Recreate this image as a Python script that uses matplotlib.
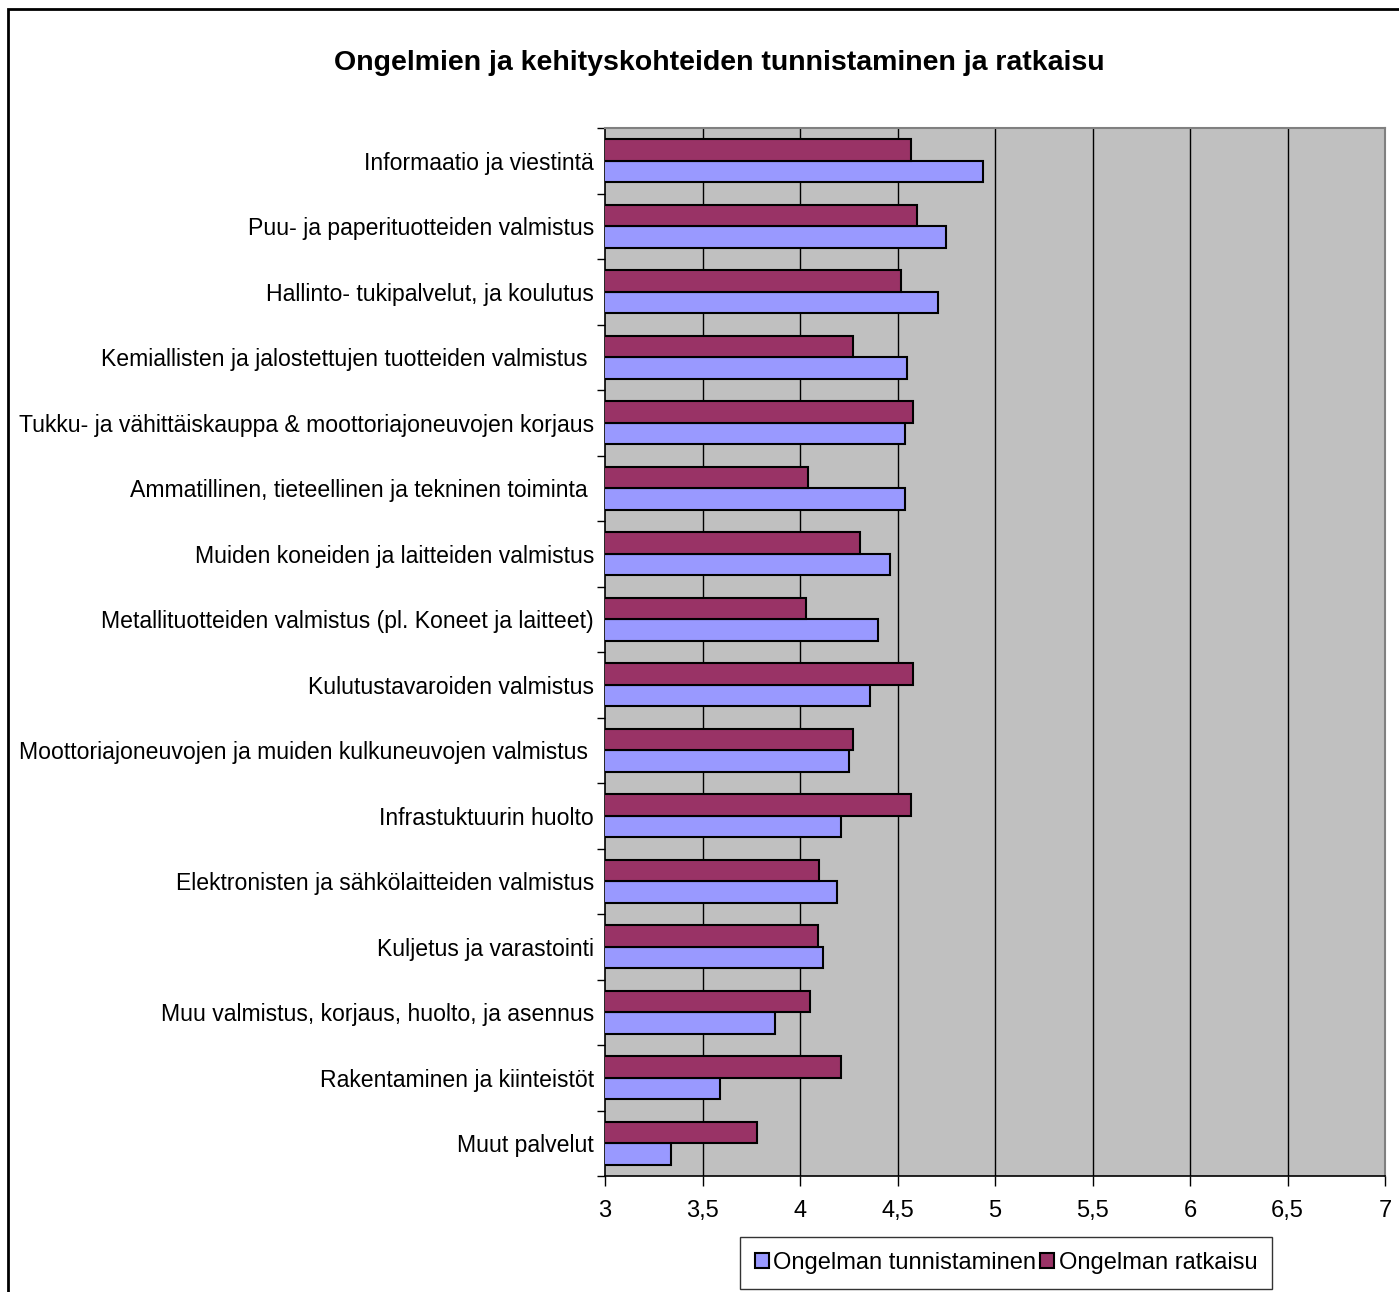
import matplotlib
matplotlib.use("Agg")
import matplotlib.pyplot as plt
import matplotlib.patches as mpatches
import numpy as np

plt.rcParams['font.family'] = ['Liberation Sans', 'DejaVu Sans']

title = "Ongelmien ja kehityskohteiden tunnistaminen ja ratkaisu"

categories = [
    "Informaatio ja viestintä",
    "Puu- ja paperituotteiden valmistus",
    "Hallinto- tukipalvelut, ja koulutus",
    "Kemiallisten ja jalostettujen tuotteiden valmistus ",
    "Tukku- ja vähittäiskauppa & moottoriajoneuvojen korjaus",
    "Ammatillinen, tieteellinen ja tekninen toiminta ",
    "Muiden koneiden ja laitteiden valmistus",
    "Metallituotteiden valmistus (pl. Koneet ja laitteet)",
    "Kulutustavaroiden valmistus",
    "Moottoriajoneuvojen ja muiden kulkuneuvojen valmistus ",
    "Infrastuktuurin huolto",
    "Elektronisten ja sähkölaitteiden valmistus",
    "Kuljetus ja varastointi",
    "Muu valmistus, korjaus, huolto, ja asennus",
    "Rakentaminen ja kiinteistöt",
    "Muut palvelut",
]

series_names = ["Ongelman tunnistaminen", "Ongelman ratkaisu"]

tunnistaminen = [4.94, 4.75, 4.71, 4.55, 4.54, 4.54, 4.46, 4.40,
                 4.36, 4.25, 4.21, 4.19, 4.12, 3.87, 3.59, 3.34]
ratkaisu = [4.57, 4.60, 4.52, 4.27, 4.58, 4.04, 4.31, 4.03,
            4.58, 4.27, 4.57, 4.10, 4.09, 4.05, 4.21, 3.78]

x_ticks = [3, 3.5, 4, 4.5, 5, 5.5, 6, 6.5, 7]
x_tick_labels = ["3", "3,5", "4", "4,5", "5", "5,5", "6", "6,5", "7"]

W, H = 1399, 1292
fig = plt.figure(figsize=(W / 100, H / 100), dpi=100)
fig.patch.set_facecolor("white")

# chart-area frame (runs past the right and bottom edges)
fx0, fy_top = 8 / W, 1 - 9 / H
frame = mpatches.Rectangle((fx0, -0.2), 1.2, fy_top + 0.2,
                           transform=fig.transFigure, fill=False,
                           edgecolor="black", linewidth=2, clip_on=False)
fig.patches.append(frame)

left, right, top, bottom = 605, 1385, 128, 1176
ax = fig.add_axes([left / W, 1 - bottom / H, (right - left) / W, (bottom - top) / H])
ax.set_facecolor("#C0C0C0")

n = len(categories)
y = np.arange(n)
bh = 0.328

ax.barh(y + bh / 2, tunnistaminen, height=bh, left=0, color="#9999FF",
        edgecolor="black", linewidth=1.5, label=series_names[0], zorder=3)
ax.barh(y - bh / 2, ratkaisu, height=bh, left=0, color="#993366",
        edgecolor="black", linewidth=1.5, label=series_names[1], zorder=3)

ax.set_xlim(3, 7)
ax.set_ylim(n - 0.5, -0.5)

ax.set_xticks(x_ticks)
ax.set_xticklabels(x_tick_labels, fontsize=17)
ax.tick_params(axis="x", direction="out", length=7, width=1, pad=10, color="black")
for xv in x_ticks[1:-1]:
    ax.axvline(xv, color="black", linewidth=1, zorder=1)

# boundary ticks between categories, labels at category centres
ax.set_yticks(np.arange(-0.5, n, 1.0))
ax.set_yticklabels([])
ax.tick_params(axis="y", which="major", direction="out", length=6, width=1)
ax.set_yticks(y, minor=True)
ax.set_yticklabels(categories, minor=True, fontsize=16.6)
ax.tick_params(axis="y", which="minor", length=0, pad=8)

for s in ("top", "right"):
    ax.spines[s].set_color("#808080")
    ax.spines[s].set_linewidth(1.5)
for s in ("left", "bottom"):
    ax.spines[s].set_color("black")
    ax.spines[s].set_linewidth(1.2)

fig.text(719 / W, 1 - 63 / H, title, ha="center", va="center",
         fontsize=20.5, fontweight="bold")

handles, labels = ax.get_legend_handles_labels()
leg = fig.legend(handles, labels, loc="center",
                 bbox_to_anchor=(1006 / W, 1 - 1263 / H),
                 bbox_transform=fig.transFigure, ncol=2, fontsize=17,
                 frameon=True, fancybox=False, shadow=False,
                 handlelength=0.6, handleheight=0.6, handletextpad=0.2,
                 columnspacing=0.15, borderpad=0.62, borderaxespad=0)
leg.get_frame().set_edgecolor("black")
leg.get_frame().set_linewidth(1)
for p in leg.get_patches():
    p.set_linewidth(1.5)

fig.savefig("out.png", dpi=100)
